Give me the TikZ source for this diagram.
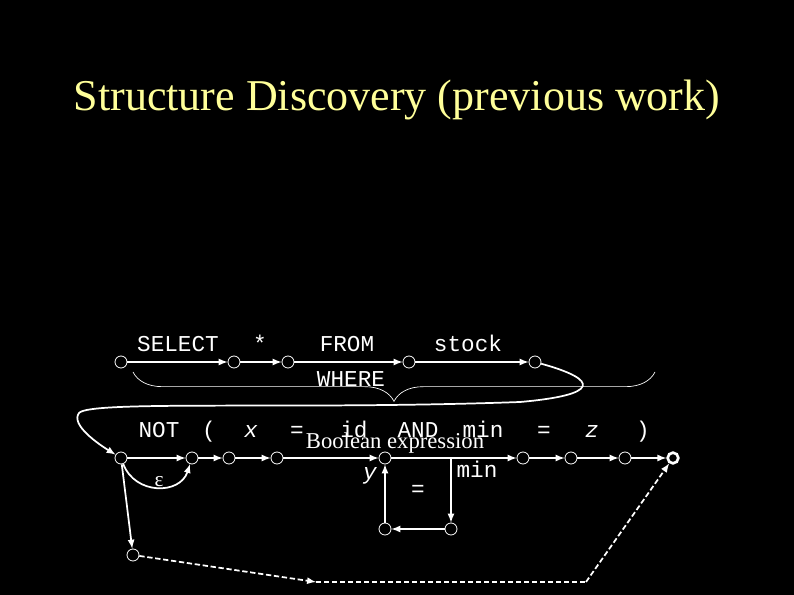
\documentclass[tikz,border=0pt]{standalone}
\usepackage{fontspec}
\setmainfont{Liberation Serif}
\setmonofont{Liberation Mono}
\usetikzlibrary{decorations.pathreplacing}
\definecolor{titleyellow}{RGB}{255,255,153}
\tikzset{
  st/.style={circle, draw=white, fill=black, inner sep=0pt, minimum size=9pt, line width=0.6pt},
  fin/.style={st, line width=2pt, minimum size=8pt},
  edge/.style={white, line width=1.3pt, -latex},
  lbl/.style={white, font=\ttfamily\fontsize{17}{17}\selectfont, anchor=base},
  longdash/.style={dash pattern=on 4pt off 2pt},
}
\begin{document}
\begin{tikzpicture}[x=0.75pt,y=-0.75pt]
\fill[black] (0,0) rectangle (794,595);
\node[titleyellow, font=\fontsize{33}{33}\selectfont] (title) at (397,100) {Structure Discovery (previous work)};

% first row
\node[st] (a0) at (121,362) {};
\node[st] (a1) at (234,362) {};
\node[st] (a2) at (288,362) {};
\node[st] (a3) at (409,362) {};
\node[st] (a4) at (535,362) {};
\draw[edge] (a0) -- (a1);
\draw[edge] (a1) -- (a2);
\draw[edge] (a2) -- (a3);
\draw[edge] (a3) -- (a4);
\node[lbl] (lSELECT) at (178,352) {SELECT};
\node[lbl] (lstar) at (260,352) {*};
\node[lbl] (lFROM) at (347,352) {FROM};
\node[lbl] (lstock) at (468,352) {stock};

% WHERE
\draw[white, line width=0.5pt, decorate, decoration={brace, amplitude=22pt, mirror, aspect=0.5}] (133,372) -- (655,372);
\node[lbl] (lWHERE) at (351,387) {WHERE};

% second row
\node[st] (b0) at (121,458) {};
\node[st] (b1) at (192,458) {};
\node[st] (b2) at (229,458) {};
\node[st] (b3) at (277,458) {};
\node[st] (b4) at (385,458) {};
\node[st] (b5) at (523,458) {};
\node[st] (b6) at (571,458) {};
\node[st] (b7) at (625,458) {};
\node[fin] (b8) at (673,458) {};
\node[st] (c0) at (385,529) {};
\node[st] (c1) at (451,529) {};
\node[st] (e0) at (133,555) {};
\coordinate (m0) at (316,582);
\coordinate (m1) at (586,582);

\draw[edge] (a4) .. controls (600,380) and (600,395) .. (520,402)
  .. controls (300,410) and (90,400) .. (79,413) .. controls (70,425) and (100,445) .. (b0);
\draw[edge] (b0) -- (b1);
\draw[edge] (b0) .. controls (135,495) and (180,495) .. (b1);
\draw[edge] (b1) -- (b2);
\draw[edge] (b2) -- (b3);
\draw[edge] (b3) -- (b4);
\draw[edge] (b4) -- (b5);
\draw[edge] (b5) -- (b6);
\draw[edge] (b6) -- (b7);
\draw[edge] (b7) -- (b8);
\draw[edge] (b0) -- (e0);
\draw[edge] (c0) -- (b4);
\draw[edge] (451,458) -- (c1);
\draw[edge] (c1) -- (c0);
\draw[edge, longdash] (e0) -- (m0);
\draw[white, line width=1.3pt, longdash] (m0) -- (m1);
\draw[edge, longdash] (m1) -- (b8);

\node[lbl] (lNOT) at (159,438) {NOT};
\node[lbl] (lpar) at (209,438) {(};
\node[lbl] (lx) at (251,438) {\itshape x};
\node[lbl] (leq) at (297,438) {=};
\node[lbl] (lid) at (354,438) {id};
\node[lbl] (lAND) at (418,438) {AND};
\node[lbl] (lmin) at (483,438) {min};
\node[lbl] (leq2) at (544,438) {=};
\node[lbl] (lz) at (592,438) {\itshape z};
\node[lbl] (lrpar) at (643,438) {)};
\node[white, font=\fontsize{17}{17}\selectfont] (lbool) at (395,443) {Boolean expression};
\node[lbl] (ly) at (370,480) {\itshape y};
\node[lbl] (lmin2) at (477,478) {min};
\node[lbl] (leq3) at (418,497) {=};
\node[white, font=\fontsize{16}{16}\selectfont] (leps) at (159,482) {ε};
\end{tikzpicture}
\end{document}
